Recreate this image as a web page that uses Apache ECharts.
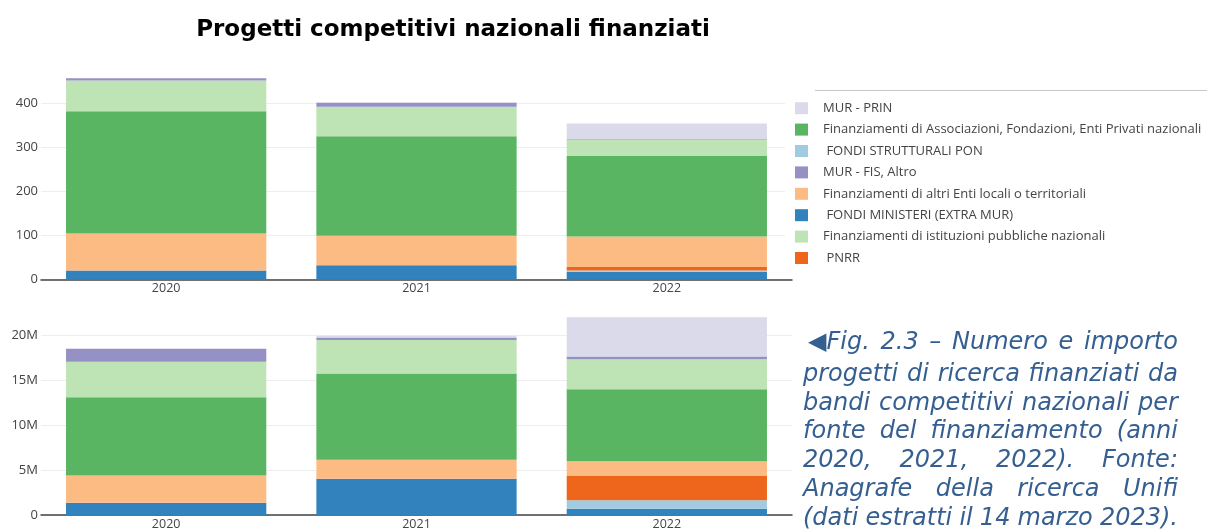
<!DOCTYPE html>
<html>
<head>
<meta charset="utf-8">
<script src="https://cdn.jsdelivr.net/npm/echarts@6/dist/echarts.min.js"></script>
<style>
  html, body { margin: 0; padding: 0; background: #fff; }
  #wrap { position: relative; width: 1207px; height: 531px; overflow: hidden; }
  #main { position: absolute; left: 0; top: 0; width: 1207px; height: 531px; }
  #caption {
    position: absolute; left: 803px; top: 327px; width: 375px;
    font-family: Verdana, "DejaVu Sans", sans-serif; font-style: italic;
    font-size: 24px; color: #365f91;
  }
  #caption .ln { display: flex; justify-content: space-between; height: 28.8px; line-height: 28.8px; white-space: nowrap; }
</style>
</head>
<body>
<div id="wrap">
  <div id="main"></div>
  <div id="caption"></div>
</div>
<script>
  // anni
  var years = ['2020', '2021', '2022'];

  // ordine della legenda (come nel grafico originale)
  var legendOrder = ['MUR - PRIN', 'Finanziamenti di Associazioni, Fondazioni, Enti Privati nazionali',
    ' FONDI STRUTTURALI PON', 'MUR - FIS, Altro', 'Finanziamenti di altri Enti locali o territoriali',
    ' FONDI MINISTERI (EXTRA MUR)', 'Finanziamenti di istituzioni pubbliche nazionali', ' PNRR'];

  // numero di progetti (grafico in alto)
  var nMinisteri    = [20, 32, 17];
  var nPon          = [0, 0, 3];
  var nPnrr         = [0, 0, 8];
  var nEntiLocali   = [84, 67, 69];
  var nAssociazioni = [278, 226, 183];
  var nIstituzioni  = [70, 67, 38];
  var nFis          = [5, 9, 1];
  var nPrin         = [0, 2, 35];

  // importo in euro (grafico in basso)
  var eMinisteri    = [1360000, 4020000, 700000];
  var ePon          = [0, 0, 940000];
  var ePnrr         = [0, 0, 2740000];
  var eEntiLocali   = [3020000, 2110000, 1580000];
  var eAssociazioni = [8690000, 9570000, 7990000];
  var eIstituzioni  = [3940000, 3720000, 3350000];
  var eFis          = [1430000, 290000, 300000];
  var ePrin         = [0, 200000, 4340000];

  var topTicks = [0, 100, 200, 300, 400];
  var bottomTicks = ['0', '5M', '10M', '15M', '20M'];

  var captionLines = [
    '\u25C0Fig. 2.3 \u2013 Numero e importo',
    'progetti di ricerca finanziati da',
    'bandi competitivi nazionali per',
    'fonte del finanziamento (anni',
    '2020, 2021, 2022). Fonte:',
    'Anagrafe della ricerca Unifi',
    '(dati estratti il 14 marzo 2023).'
  ];

  // colori per fonte
  var colors = {
    'MUR - PRIN': '#dadaeb',
    'Finanziamenti di Associazioni, Fondazioni, Enti Privati nazionali': '#5ab562',
    ' FONDI STRUTTURALI PON': '#a1cbe2',
    'MUR - FIS, Altro': '#9691c4',
    'Finanziamenti di altri Enti locali o territoriali': '#fdbb84',
    ' FONDI MINISTERI (EXTRA MUR)': '#3182bd',
    'Finanziamenti di istituzioni pubbliche nazionali': '#bee4b5',
    ' PNRR': '#ee661c'
  };

  // ordine di impilamento dal basso
  var stackTop = [
    [' FONDI MINISTERI (EXTRA MUR)', nMinisteri],
    [' FONDI STRUTTURALI PON', nPon],
    [' PNRR', nPnrr],
    ['Finanziamenti di altri Enti locali o territoriali', nEntiLocali],
    ['Finanziamenti di Associazioni, Fondazioni, Enti Privati nazionali', nAssociazioni],
    ['Finanziamenti di istituzioni pubbliche nazionali', nIstituzioni],
    ['MUR - FIS, Altro', nFis],
    ['MUR - PRIN', nPrin]
  ];
  var stackBottom = [
    [' FONDI MINISTERI (EXTRA MUR)', eMinisteri],
    [' FONDI STRUTTURALI PON', ePon],
    [' PNRR', ePnrr],
    ['Finanziamenti di altri Enti locali o territoriali', eEntiLocali],
    ['Finanziamenti di Associazioni, Fondazioni, Enti Privati nazionali', eAssociazioni],
    ['Finanziamenti di istituzioni pubbliche nazionali', eIstituzioni],
    ['MUR - FIS, Altro', eFis],
    ['MUR - PRIN', ePrin]
  ];

  var font = '"Open Sans", sans-serif';
  var series = [];
  stackTop.forEach(function (s) {
    series.push({ name: s[0], type: 'bar', stack: 'n', xAxisIndex: 0, yAxisIndex: 0,
      barCategoryGap: '20%', itemStyle: { color: colors[s[0]] }, data: s[1] });
  });
  stackBottom.forEach(function (s) {
    series.push({ name: s[0], type: 'bar', stack: 'e', xAxisIndex: 1, yAxisIndex: 1,
      barCategoryGap: '20%', itemStyle: { color: colors[s[0]] }, data: s[1] });
  });

  function xAxis(gridIndex) {
    return {
      type: 'category', gridIndex: gridIndex, data: years,
      axisLine: { lineStyle: { color: '#444', width: 1.5 } },
      axisTick: { show: false },
      axisLabel: { color: '#444', fontFamily: font, fontSize: 12.5, margin: 3 }
    };
  }

  var myChart = echarts.init(document.getElementById('main'));
  var option = {
    animation: false,
    title: {
      text: 'Progetti competitivi nazionali finanziati',
      left: 448, top: 14, textAlign: 'center',
      textStyle: { fontFamily: 'Verdana, "DejaVu Sans", sans-serif', fontWeight: 'bold', fontSize: 23, color: '#000' }
    },
    legend: {
      data: legendOrder, orient: 'vertical', left: 785, top: 97.7,
      padding: [4, 30, 4, 10], backgroundColor: '#fff',
      icon: 'rect', itemWidth: 13, itemHeight: 12, itemGap: 8.4,
      textStyle: { fontFamily: font, fontSize: 13, color: '#444', lineHeight: 12, padding: [0, 0, 0, 10] }
    },
    graphic: [{
      type: 'line', z: 10,
      shape: { x1: 815, y1: 90.5, x2: 1207, y2: 90.5 },
      style: { stroke: '#c8c8c8', lineWidth: 1 }
    }],
    grid: [
      { left: 41, width: 751, top: 76.9, height: 202.4 },
      { left: 41, width: 751, top: 316.8, height: 200.9 }
    ],
    xAxis: [xAxis(0), xAxis(1)],
    yAxis: [
      {
        type: 'value', gridIndex: 0, min: 0, max: 460, interval: 100,
        axisLine: { show: false }, axisTick: { show: false },
        splitLine: { showMaxLine: false, lineStyle: { color: '#eee' } },
        axisLabel: { showMaxLabel: false, color: '#444', fontFamily: font, fontSize: 13, margin: 3,
          formatter: function (v) { return topTicks.indexOf(v) >= 0 ? String(v) : ''; } }
      },
      {
        type: 'value', gridIndex: 1, min: 0, max: 22000000, interval: 5000000,
        axisLine: { show: false }, axisTick: { show: false },
        splitLine: { showMaxLine: false, lineStyle: { color: '#eee' } },
        axisLabel: { showMaxLabel: false, color: '#444', fontFamily: font, fontSize: 13, margin: 3,
          formatter: function (v) { var i = v / 5000000; return bottomTicks[i] || ''; } }
      }
    ],
    series: series
  };
  myChart.setOption(option);

  // didascalia giustificata, una riga per blocco
  var cap = document.getElementById('caption');
  captionLines.forEach(function (line, i) {
    var div = document.createElement('div');
    div.className = 'ln';
    if (i === 0) { div.style.paddingLeft = '5px'; div.style.marginBottom = '3px'; }
    line.split(' ').forEach(function (w) {
      var sp = document.createElement('span');
      sp.textContent = w;
      div.appendChild(sp);
    });
    cap.appendChild(div);
  });
</script>
</body>
</html>
